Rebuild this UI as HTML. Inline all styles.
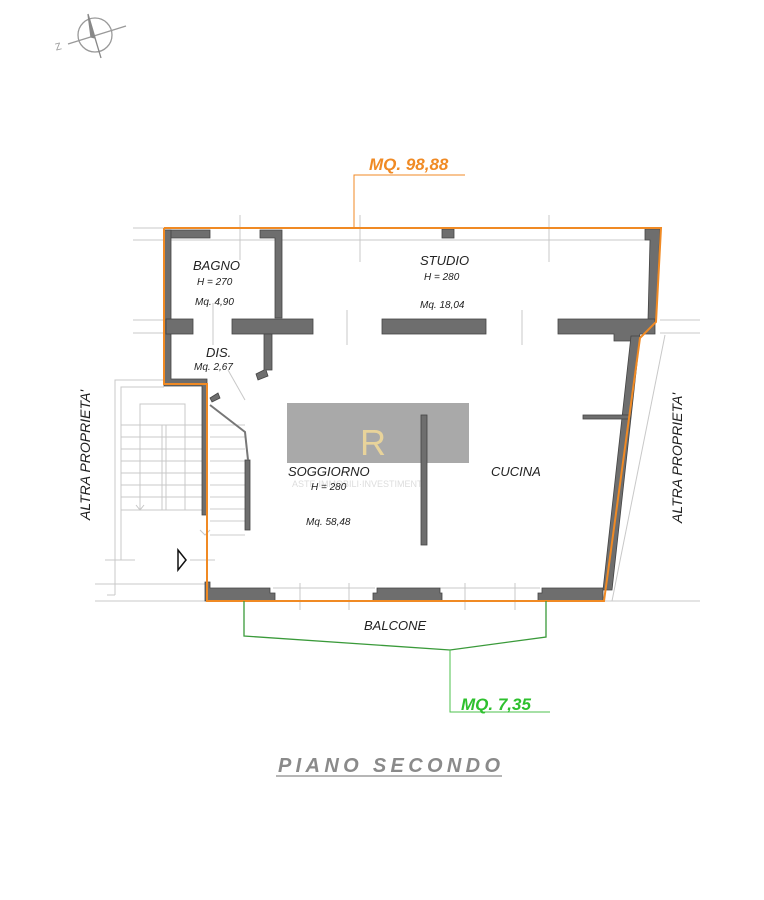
<!DOCTYPE html>
<html><head><meta charset="utf-8"><style>
html,body{margin:0;padding:0;background:#fff;width:764px;height:900px;overflow:hidden}
svg{display:block}
text{font-family:"Liberation Sans",sans-serif}
</style></head><body>
<svg width="764" height="900" viewBox="0 0 764 900" xmlns="http://www.w3.org/2000/svg">
<!-- compass -->
<g stroke="#999" fill="none" stroke-width="1.3">
<circle cx="95" cy="35" r="17"/>
<line x1="68" y1="44" x2="126" y2="26"/>
<polygon points="88,14 101,58 95,38 91,37" fill="#888" stroke="#888"/>
</g>
<text x="55" y="50" font-size="10" fill="#999" transform="rotate(-15 58 46)">Z</text>

<!-- light grid lines -->
<g stroke="#c8c8c8" stroke-width="1" fill="none">
<line x1="133" y1="228" x2="164" y2="228"/><line x1="133" y1="240" x2="164" y2="240"/>
<line x1="133" y1="320" x2="164" y2="320"/><line x1="133" y1="333" x2="164" y2="333"/>
<line x1="660" y1="320" x2="700" y2="320"/><line x1="660" y1="333" x2="700" y2="333"/>
<line x1="95" y1="601" x2="700" y2="601"/><line x1="95" y1="584" x2="205" y2="584"/>
<line x1="166" y1="240" x2="655" y2="240"/>
<line x1="240" y1="215" x2="240" y2="260"/><line x1="360" y1="215" x2="360" y2="262"/><line x1="549" y1="215" x2="549" y2="262"/>
<line x1="347" y1="310" x2="347" y2="345"/><line x1="522" y1="310" x2="522" y2="345"/>
<line x1="300" y1="583" x2="300" y2="610"/><line x1="349" y1="583" x2="349" y2="610"/>
<line x1="465" y1="583" x2="465" y2="610"/><line x1="515" y1="583" x2="515" y2="610"/>
<line x1="273" y1="588" x2="375" y2="588"/><line x1="440" y1="588" x2="540" y2="588"/>
<line x1="665" y1="335" x2="612" y2="601"/>
<line x1="213" y1="303" x2="213" y2="345"/><line x1="228" y1="370" x2="245" y2="400"/>
<!-- stairs -->
<polyline points="115,595 115,380 164,380"/><polyline points="121,560 121,387 164,387"/>
<polyline points="107,595 115,595"/><line x1="105" y1="560" x2="135" y2="560"/><line x1="190" y1="560" x2="215" y2="560"/>
<polyline points="140,510 140,404 185,404 185,510"/>
<line x1="162" y1="425" x2="162" y2="510"/><line x1="166" y1="425" x2="166" y2="510"/>
<g><line x1="121" y1="425" x2="205" y2="425"/><line x1="121" y1="437" x2="205" y2="437"/><line x1="121" y1="449" x2="205" y2="449"/><line x1="121" y1="461" x2="205" y2="461"/><line x1="121" y1="473" x2="205" y2="473"/><line x1="121" y1="485" x2="205" y2="485"/><line x1="121" y1="497" x2="205" y2="497"/><line x1="121" y1="510" x2="205" y2="510"/></g>
<g stroke="#ccc"><line x1="210" y1="425" x2="245" y2="425"/><line x1="210" y1="437" x2="245" y2="437"/><line x1="210" y1="449" x2="245" y2="449"/><line x1="210" y1="461" x2="245" y2="461"/><line x1="210" y1="473" x2="245" y2="473"/><line x1="210" y1="485" x2="245" y2="485"/><line x1="210" y1="497" x2="245" y2="497"/><line x1="210" y1="509" x2="245" y2="509"/><line x1="210" y1="521" x2="245" y2="521"/><line x1="210" y1="535" x2="245" y2="535"/></g>
<polyline points="136,505 140,510 144,505"/><polyline points="200,530 205,535 210,530"/>
</g>

<!-- walls -->
<g fill="#6e6e6e" stroke="#444" stroke-width="0.8">
<polygon points="164,230 210,230 210,238 164,238"/>
<polygon points="260,230 282,230 282,318 275,318 275,238 260,238"/>
<rect x="442" y="229" width="12" height="9"/>
<polygon points="645,229 660,229 656,320 648,320 650,240 645,240"/>
<polygon points="164,230 171,230 171,379 207,379 207,515 202,515 202,386 164,386"/>
<rect x="166" y="319" width="27" height="15"/>
<rect x="232" y="319" width="81" height="15"/>
<polygon points="264,334 272,334 272,370 266,370 268,376 258,380 256,374 264,370"/>
<rect x="382" y="319" width="104" height="15"/>
<polygon points="558,319 655,319 655,334 640,334 638,341 614,341 614,334 558,334"/>
<polygon points="631,336 640,336 612,590 603,590"/>
<rect x="583" y="415" width="47" height="4"/>
<rect x="245" y="460" width="5" height="70"/>
<polygon points="205,582 210,582 210,588 270,588 270,593 275,593 275,601 205,601"/>
<polygon points="377,588 440,588 440,593 442,593 442,601 373,601 373,593 377,593"/>
<polygon points="542,588 603,588 603,601 538,601 538,593 542,593"/>
<polygon points="210,398 218,393 220,398 212,402"/>
</g>
<polyline points="210,405 245,432 248,460" stroke="#777" stroke-width="2" fill="none"/>

<!-- orange outline -->
<polyline points="164,228 661,228 656,322 640,338 604,601 207,601 207,384 164,384 164,228" fill="none" stroke="#f08a24" stroke-width="2"/>
<polyline points="354,228 354,175 465,175" fill="none" stroke="#f08a24" stroke-width="1"/>
<text x="369" y="170" font-size="17" font-weight="bold" font-style="italic" fill="#f08a24">MQ. 98,88</text>

<!-- balcone -->
<polyline points="244,601 244,636 450,650 546,637 546,601" fill="none" stroke="#3a9a3a" stroke-width="1.3"/>
<polyline points="450,650 450,712 550,712" fill="none" stroke="#4cc24c" stroke-width="1"/>
<text x="461" y="710" font-size="17" font-weight="bold" font-style="italic" fill="#2ec02e">MQ. 7,35</text>
<text x="364" y="630" font-size="13" font-style="italic" fill="#222">BALCONE</text>

<!-- door arrow -->
<polygon points="178,550 186,560 178,570" fill="#fff" stroke="#111" stroke-width="1.5"/>

<!-- watermark -->
<rect x="287" y="403" width="182" height="60" fill="#a9a9a9"/>
<text x="360" y="455" font-size="36" fill="#e8d39a" font-family="Liberation Serif,serif">R</text>
<text x="292" y="487" font-size="9" fill="#ddd" font-family="Liberation Serif,serif">ASTE·IMMOBILI·INVESTIMENTI</text>
<rect x="421" y="415" width="6" height="130" fill="#6e6e6e" stroke="#444" stroke-width="0.8"/>

<!-- labels -->
<g font-style="italic" fill="#222">
<text x="193" y="270" font-size="13">BAGNO</text>
<text x="197" y="285" font-size="10">H = 270</text>
<text x="195" y="305" font-size="10">Mq. 4,90</text>
<text x="420" y="265" font-size="13">STUDIO</text>
<text x="424" y="280" font-size="10">H = 280</text>
<text x="420" y="308" font-size="10">Mq. 18,04</text>
<text x="206" y="357" font-size="13">DIS.</text>
<text x="194" y="370" font-size="10">Mq. 2,67</text>
<text x="288" y="476" font-size="13">SOGGIORNO</text>
<text x="311" y="490" font-size="10">H = 280</text>
<text x="306" y="525" font-size="10">Mq. 58,48</text>
<text x="491" y="476" font-size="13">CUCINA</text>
<text x="90" y="455" font-size="14" transform="rotate(-90 90 455)" text-anchor="middle">ALTRA PROPRIETA'</text>
<text x="682" y="458" font-size="14" transform="rotate(-90 682 458)" text-anchor="middle">ALTRA PROPRIETA'</text>
</g>

<text x="278" y="772" font-size="20" font-weight="bold" font-style="italic" fill="#8a8a8a" textLength="222">PIANO  SECONDO</text>
<line x1="276" y1="776" x2="502" y2="776" stroke="#8a8a8a" stroke-width="1.3"/>
</svg>
</body></html>
